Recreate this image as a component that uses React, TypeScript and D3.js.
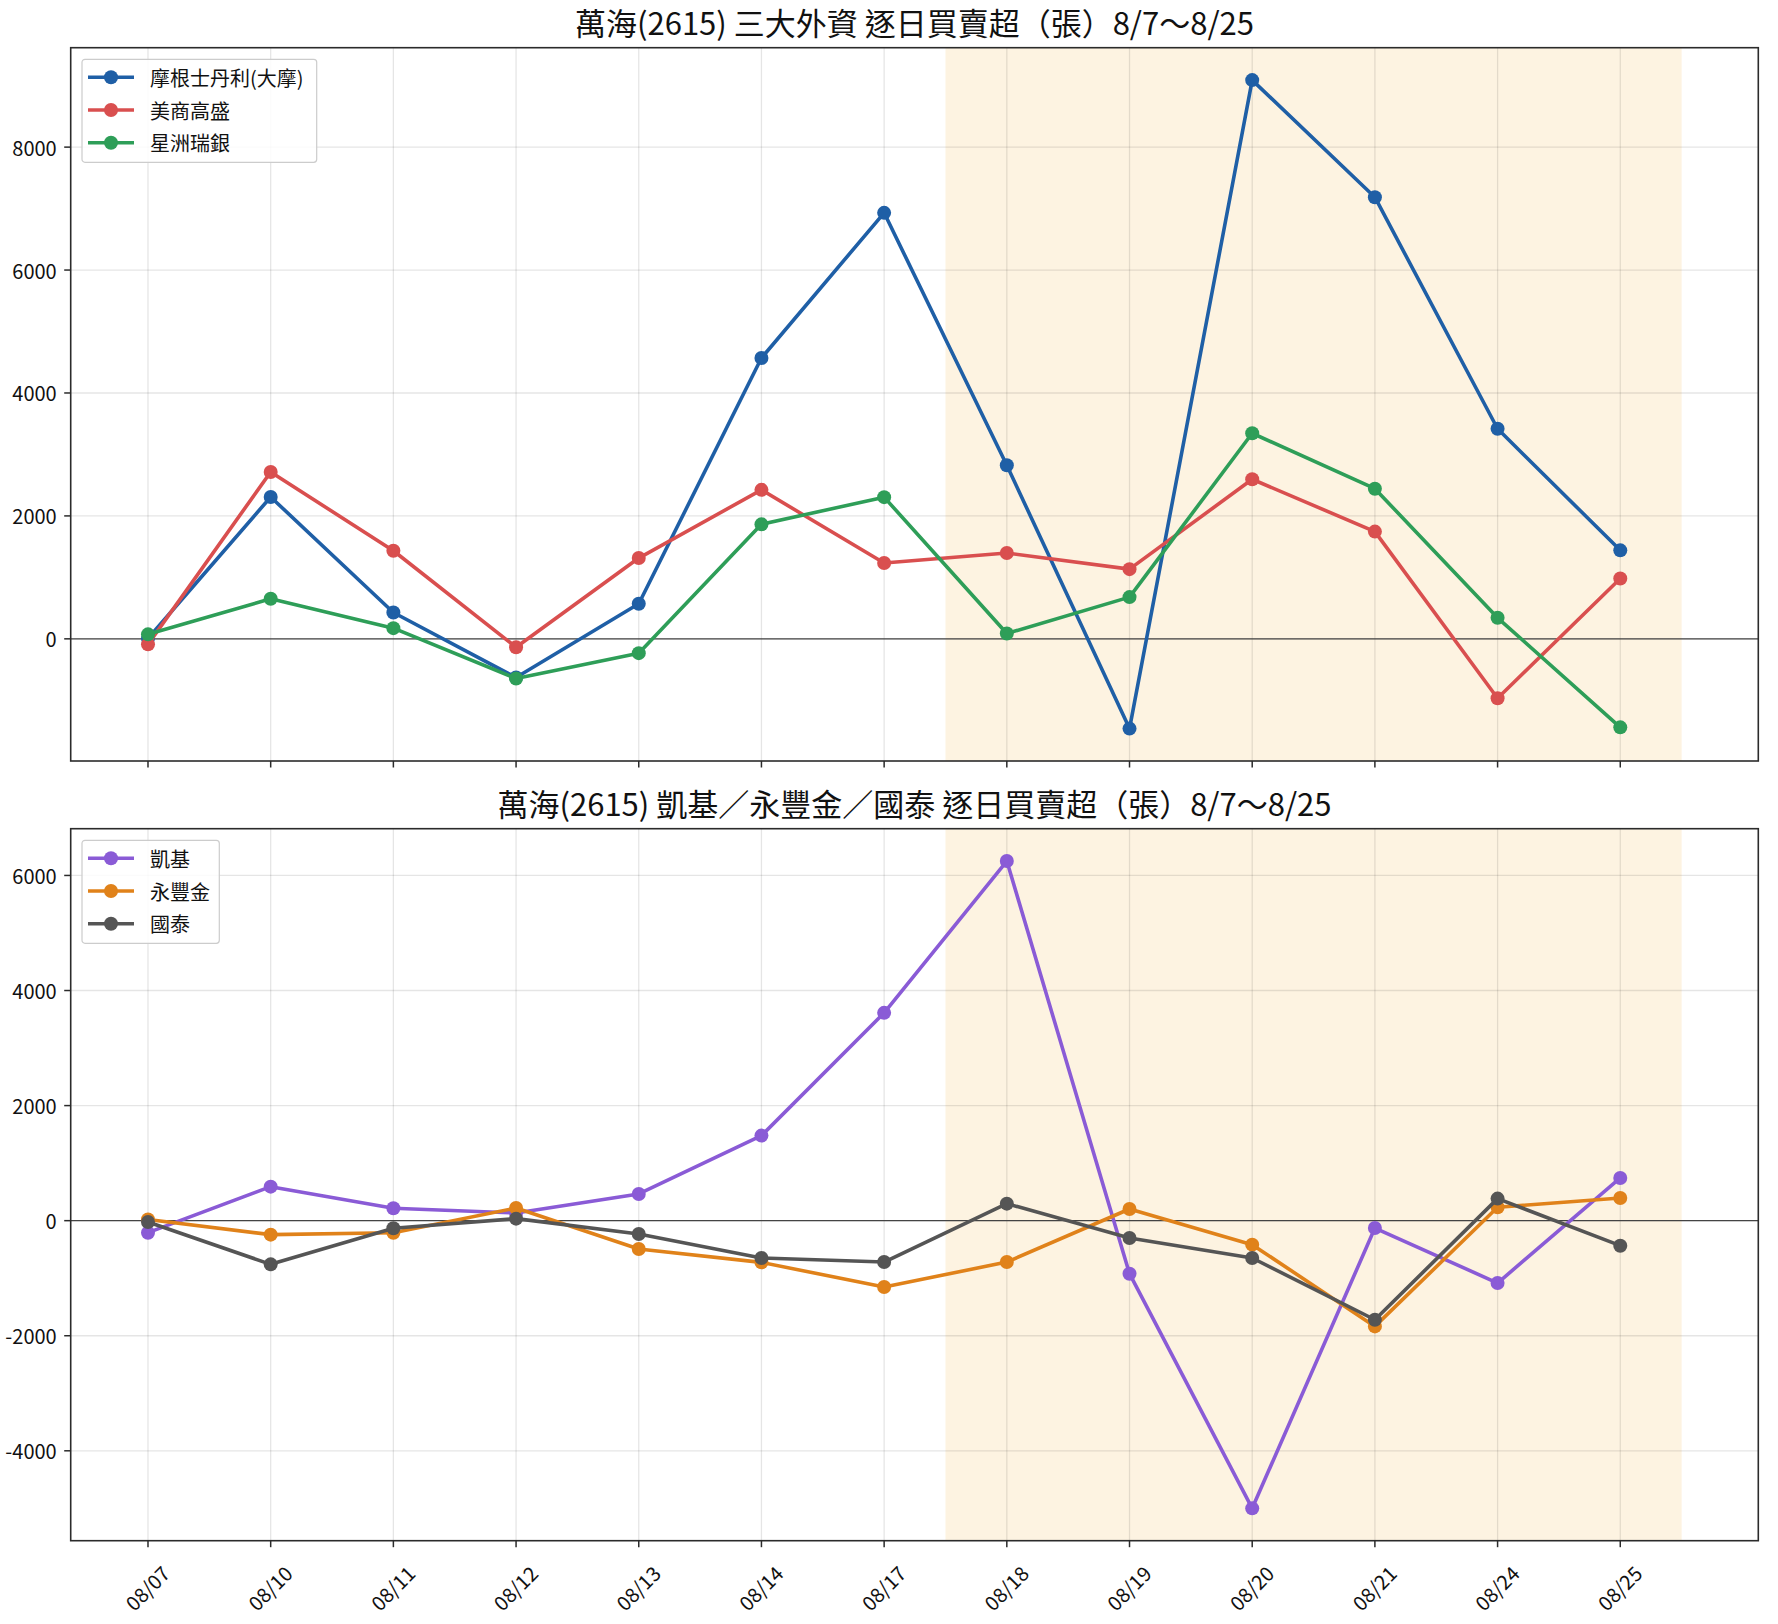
import React from "react";
import * as d3 from "d3";

// trading days
const dates = ["08/07", "08/10", "08/11", "08/12", "08/13", "08/14", "08/17", "08/18", "08/19", "08/20", "08/21", "08/24", "08/25"];

// top panel: three foreign brokers (張)
const morganStanley = [5, 2308, 429, -630, 570, 4569, 6931, 2823, -1460, 9090, 7185, 3418, 1440];
const goldmanSachs = [-90, 2715, 1433, -136, 1314, 2424, 1233, 1396, 1134, 2596, 1745, -967, 982];
const ubsSingapore = [73, 652, 174, -646, -233, 1863, 2305, 86, 679, 3345, 2443, 342, -1440];

// bottom panel: local brokers (張)
const kgi = [-209, 591, 215, 133, 464, 1478, 3612, 6250, -922, -5000, -128, -1084, 742];
const sinopac = [20, -243, -209, 220, -493, -725, -1154, -719, 203, -417, -1838, 232, 394];
const cathay = [-23, -759, -132, 35, -232, -649, -719, 296, -301, -649, -1722, 383, -435];

const topTicks = [0, 2000, 4000, 6000, 8000];
const bottomTicks = [-4000, -2000, 0, 2000, 4000, 6000];

// highlighted window (index range)
const shadeRange = [6.5, 12.5];

const FONT = "'Noto Sans CJK TC', 'Noto Sans CJK SC', sans-serif";
const W = 1778;
const H = 1624;
const left = 70.7;
const right = 1758.3;

type Series = { name: string; color: string; values: number[] };

const topSeries: Series[] = [
  { name: "摩根士丹利(大摩)", color: "#1f5fa6", values: morganStanley },
  { name: "美商高盛", color: "#d94f4f", values: goldmanSachs },
  { name: "星洲瑞銀", color: "#2e9e58", values: ubsSingapore },
];

const bottomSeries: Series[] = [
  { name: "凱基", color: "#8a5bd6", values: kgi },
  { name: "永豐金", color: "#e0821a", values: sinopac },
  { name: "國泰", color: "#555555", values: cathay },
];

const x = d3.scaleLinear().domain([-0.63, 13.125]).range([left, right]);

function padded(series: Series[]) {
  const all = series.flatMap((s) => s.values);
  const [lo, hi] = d3.extent(all) as [number, number];
  const m = (hi - lo) * 0.05;
  return [lo - m, hi + m];
}

const Panel: React.FC<{
  top: number;
  bottom: number;
  title: string;
  series: Series[];
  ticks: number[];
  legendWidth: number;
  showLabels: boolean;
}> = ({ top, bottom, title, series, ticks, legendWidth, showLabels }) => {
  const y = d3.scaleLinear().domain(padded(series)).range([bottom, top]);
  const line = d3
    .line<number>()
    .x((_, i) => x(i))
    .y((d) => y(d));
  const clipId = `clip-${Math.round(top)}`;

  return (
    <g>
      <defs>
        <clipPath id={clipId}>
          <rect x={left} y={top} width={right - left} height={bottom - top} />
        </clipPath>
      </defs>
      <text x={(left + right) / 2} y={top - 12.5} textAnchor="middle" fontSize={31} fill="#111" fontFamily={FONT}>
        {title}
      </text>
      <g clipPath={`url(#${clipId})`}>
        <rect
          x={x(shadeRange[0])}
          y={top}
          width={x(shadeRange[1]) - x(shadeRange[0])}
          height={bottom - top}
          fill="#fdf3e1"
        />
        {dates.map((_, i) => (
          <line key={"gx" + i} x1={x(i)} x2={x(i)} y1={top} y2={bottom} stroke="#000" strokeOpacity={0.1} strokeWidth={1.3} />
        ))}
        {ticks.map((t) => (
          <line key={"gy" + t} x1={left} x2={right} y1={y(t)} y2={y(t)} stroke="#000" strokeOpacity={0.1} strokeWidth={1.3} />
        ))}
        <line x1={left} x2={right} y1={y(0)} y2={y(0)} stroke="#444" strokeWidth={1.4} />
        {series.map((s) => (
          <g key={s.name}>
            <path d={line(s.values) ?? ""} fill="none" stroke={s.color} strokeWidth={3.6} strokeLinejoin="round" />
            {s.values.map((v, i) => (
              <circle key={i} cx={x(i)} cy={y(v)} r={7} fill={s.color} />
            ))}
          </g>
        ))}
      </g>
      <rect x={left} y={top} width={right - left} height={bottom - top} fill="none" stroke="#2b2b2b" strokeWidth={1.6} />
      {ticks.map((t) => (
        <g key={"ty" + t}>
          <line x1={left - 6.5} x2={left} y1={y(t)} y2={y(t)} stroke="#2b2b2b" strokeWidth={1.5} />
          <text
            x={left - 14}
            y={y(t)}
            textAnchor="end"
            dominantBaseline="central"
            fontSize={20}
            fill="#111"
            fontFamily={FONT}
          >
            {String(t)}
          </text>
        </g>
      ))}
      {dates.map((d, i) => (
        <g key={"tx" + i}>
          <line x1={x(i)} x2={x(i)} y1={bottom} y2={bottom + 6.5} stroke="#2b2b2b" strokeWidth={1.5} />
          {showLabels && (
            <text
              transform={`translate(${x(i) - 1},${bottom + 47}) rotate(-45)`}
              textAnchor="middle"
              dominantBaseline="central"
              fontSize={20}
              fill="#111"
              fontFamily={FONT}
            >
              {d}
            </text>
          )}
        </g>
      ))}
      <g transform={`translate(82,${top + 11.6})`}>
        <rect
          x={0}
          y={0}
          width={legendWidth}
          height={103}
          rx={3}
          fill="#fff"
          fillOpacity={0.85}
          stroke="#cccccc"
          strokeWidth={1.2}
        />
        {series.map((s, k) => (
          <g key={s.name} transform={`translate(0,${18 + k * 32.7})`}>
            <line x1={6} x2={52} y1={0} y2={0} stroke={s.color} strokeWidth={3.6} />
            <circle cx={29} cy={0} r={7} fill={s.color} />
            <text x={68} y={0} dominantBaseline="central" fontSize={20} fill="#111" fontFamily={FONT}>
              {s.name}
            </text>
          </g>
        ))}
      </g>
    </g>
  );
};

const App: React.FC = () => {
  return (
    <svg
      width={W}
      height={H}
      viewBox={`0 0 ${W} ${H}`}
      style={{ position: "absolute", left: 0, top: 0, background: "#fff" }}
    >
      <rect width={W} height={H} fill="#fff" />
      <Panel
        top={47.7}
        bottom={761}
        title="萬海(2615) 三大外資 逐日買賣超（張）8/7～8/25"
        series={topSeries}
        ticks={topTicks}
        legendWidth={234.7}
        showLabels={false}
      />
      <Panel
        top={828.7}
        bottom={1540.7}
        title="萬海(2615) 凱基／永豐金／國泰 逐日買賣超（張）8/7～8/25"
        series={bottomSeries}
        ticks={bottomTicks}
        legendWidth={137.3}
        showLabels={true}
      />
    </svg>
  );
};

export default App;
